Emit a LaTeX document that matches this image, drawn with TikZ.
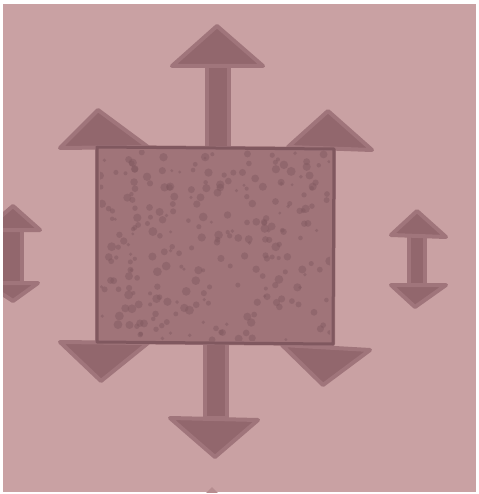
\documentclass[tikz,border=0pt]{standalone}
\begin{document}
\begin{tikzpicture}[x=1pt,y=-1pt]
\definecolor{bg}{RGB}{201,161,163}
\definecolor{inkc}{RGB}{146,103,109}
\definecolor{inkd}{RGB}{128,88,95}
\definecolor{sq}{RGB}{160,116,121}
\tikzset{
  soft/.style={draw=inkc!75!bg, line width=4pt, line join=round, fill=inkc},
  speck/.style={fill=inkd, opacity=0.45},
}
\useasboundingbox (0,0) rectangle (478,494);
\fill[white] (0,0) rectangle (478,494);
\fill[bg] (3,4) rectangle (476,492);
\begin{scope}
\clip (3,4) rectangle (476,492);
% top arrow
\fill[soft] (207,64) rectangle (229,150);
\fill[soft] (172,66) -- (217,26) -- (263,66) -- cycle;
% bottom arrow
\fill[soft] (205,340) rectangle (227,418);
\fill[soft] (170,418) -- (215,457) -- (258,420) -- cycle;
% corner heads
\fill[soft] (60,148) -- (98,110) -- (148,147) -- cycle;
\fill[soft] (288,147) -- (328,111) -- (372,150) -- cycle;
\fill[soft] (60,342) -- (101,381) -- (148,343) -- cycle;
\fill[soft] (282,345) -- (323,385) -- (370,350) -- cycle;
% square
\fill[soft, fill=sq] (97,147) -- (334,149) -- (333,344) -- (97,342) -- cycle;
\begin{scope}
\clip (100,151) rectangle (330,340);
\pgfmathsetseed{7}
\foreach \i in {1,...,260}{
  \pgfmathsetmacro{\xx}{100+230*rnd}
  \pgfmathsetmacro{\yy}{151+189*rnd}
  \pgfmathsetmacro{\rr}{1.5+3*rnd}
  \fill[speck] (\xx,\yy) circle[radius=\rr pt];
}
\end{scope}
\draw[inkd, line width=3pt, line join=round] (97,147) -- (334,149) -- (333,344) -- (97,342) -- cycle;
% right double arrow
\fill[soft] (409,232) rectangle (425,288);
\fill[soft] (391,235) -- (417,211) -- (446,237) -- cycle;
\fill[soft] (391,285) -- (415,307) -- (446,285) -- cycle;
% left double arrow (cut off)
\fill[soft] (0,228) rectangle (22,285);
\fill[soft] (-15,230) -- (13,206) -- (40,230) -- cycle;
\fill[soft] (-15,283) -- (13,301) -- (38,283) -- cycle;
% faint mark at bottom
\fill[inkc!35!bg] (205,494) -- (212,487) -- (219,494) -- cycle;
\end{scope}
\end{tikzpicture}
\end{document}
